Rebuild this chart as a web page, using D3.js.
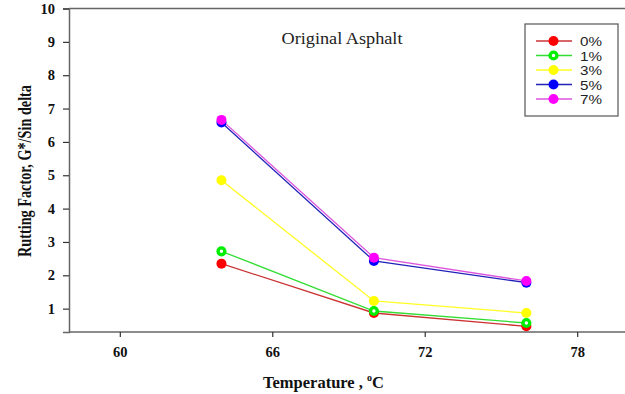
<!DOCTYPE html>
<html><head><meta charset="utf-8">
<script src="https://cdn.jsdelivr.net/npm/d3@7"></script>
<style>body{margin:0;background:#fff}svg{display:block}</style>
</head><body>
<script>
const temps = [64, 70, 76];
const seriesNames = ["0%", "1%", "3%", "5%", "7%"];
const v0 = [2.35, 0.87, 0.47];
const v1 = [2.72, 0.93, 0.57];
const v3 = [4.85, 1.23, 0.87];
const v5 = [6.58, 2.43, 1.78];
const v7 = [6.66, 2.53, 1.83];
const xTicks = [60, 66, 72, 78];
const yTicks = [1, 2, 3, 4, 5, 6, 7, 8, 9, 10];
const lineColors = ["#cc3333", "#33dd33", "#ffff22", "#2222bb", "#dd55dd"];
const markColors = ["#ff0000", "#00ee00", "#ffff00", "#0000ff", "#ff00ff"];
const seriesVals = [v0, v1, v3, v5, v7];

const W = 625, H = 394;
const svg = d3.select("body").append("svg").attr("width", W).attr("height", H);
const x = d3.scaleLinear().domain([58, 80]).range([69, 628]);
const y = d3.scaleLinear().domain([0.3, 10]).range([332, 8.5]);
const axisColor = "#666";

// frame
svg.append("line").attr("x1", 69).attr("x2", W).attr("y1", 8.5).attr("y2", 8.5)
  .attr("stroke", axisColor).attr("stroke-width", 1.5);

const gx = svg.append("g").attr("transform", "translate(0,332)")
  .call(d3.axisBottom(x).tickValues(xTicks).tickSize(5).tickPadding(10));
const gy = svg.append("g").attr("transform", "translate(69,0)")
  .call(d3.axisLeft(y).tickValues(yTicks).tickSize(6).tickPadding(8));
[gx, gy].forEach(g => {
  g.select(".domain").attr("stroke", axisColor).attr("stroke-width", 1.5);
  g.selectAll(".tick line").attr("stroke", "#333").attr("stroke-width", 1.2);
  g.selectAll(".tick text").attr("font-family", "Liberation Serif").attr("font-weight", "bold")
    .attr("font-size", 14.5).attr("fill", "#111");
});
gx.select(".domain").attr("d", `M${69},0H${W}`);

// title
svg.append("text").attr("x", 342).attr("y", 44).attr("text-anchor", "middle")
  .attr("font-family", "Liberation Serif").attr("font-size", 17.5).attr("fill", "#222")
  .attr("textLength", 121).attr("lengthAdjust", "spacingAndGlyphs")
  .text("Original Asphalt");

// axis labels
svg.append("text").attr("transform", "translate(31,171) rotate(-90)").attr("text-anchor", "middle")
  .attr("font-family", "Liberation Serif").attr("font-weight", "bold").attr("font-size", 18)
  .attr("textLength", 172).attr("lengthAdjust", "spacingAndGlyphs")
  .attr("fill", "#111").text("Rutting Factor, G*/Sin delta");
const xl = svg.append("text").attr("x", 263).attr("y", 388)
  .attr("font-family", "Liberation Serif").attr("font-weight", "bold").attr("font-size", 16.5)
  .attr("fill", "#111");
xl.append("tspan").text("Temperature , ");
xl.append("tspan").attr("dy", -7).attr("font-size", 10).text("o");
xl.append("tspan").attr("dy", 7).text("C");

// series
const line = d3.line().x((d, i) => x(temps[i])).y(d => y(d));
seriesVals.forEach((vals, s) => {
  svg.append("path").datum(vals).attr("d", line).attr("fill", "none")
    .attr("stroke", lineColors[s]).attr("stroke-width", 1.3);
});
function marker(g, cx, cy, s) {
  if (s === 1) {
    g.append("circle").attr("cx", cx).attr("cy", cy).attr("r", 3.4)
      .attr("fill", "#fff").attr("stroke", markColors[s]).attr("stroke-width", 3.4);
  } else {
    g.append("circle").attr("cx", cx).attr("cy", cy).attr("r", 5).attr("fill", markColors[s]);
  }
}
seriesVals.forEach((vals, s) => {
  vals.forEach((v, i) => marker(svg, x(temps[i]), y(v), s));
});

// legend
const lg = svg.append("g");
lg.append("rect").attr("x", 525).attr("y", 24).attr("width", 93).attr("height", 92)
  .attr("fill", "#fff").attr("stroke", "#555").attr("stroke-width", 1.2);
seriesNames.forEach((n, s) => {
  const yy = 41 + s * 14.5;
  lg.append("line").attr("x1", 536).attr("x2", 572).attr("y1", yy).attr("y2", yy)
    .attr("stroke", lineColors[s]).attr("stroke-width", 1.3);
  marker(lg, 553.5, yy, s);
  lg.append("text").attr("x", 580).attr("y", yy + 5).attr("font-family", "Liberation Sans")
    .attr("font-size", 13).attr("textLength", 22).attr("lengthAdjust", "spacingAndGlyphs")
    .attr("fill", "#222").text(n);
});
</script>
</body></html>
